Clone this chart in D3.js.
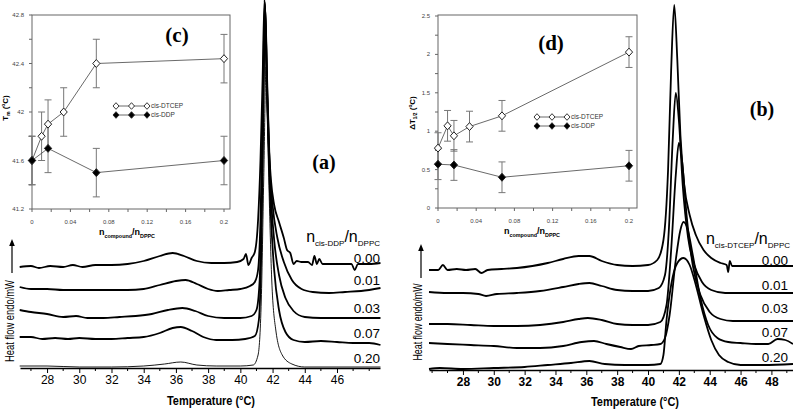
<!DOCTYPE html>
<html><head><meta charset="utf-8">
<script src="https://cdn.jsdelivr.net/npm/d3@7/dist/d3.min.js"></script>
<style>body{margin:0;background:#fff}svg{display:block}</style>
</head><body>
<svg id="c" width="793" height="409"></svg>
<script>
// ---------------- DATA ----------------
const ratioLabels = ["0.00", "0.01", "0.03", "0.07", "0.20"];
const tempTicksA = [28, 30, 32, 34, 36, 38, 40, 42, 44, 46];
const tempTicksB = [28, 30, 32, 34, 36, 38, 40, 42, 44, 46, 48];

// Panel (a): cis-DDP, heat flow (arbitrary mW, offset curves) vs temperature
const dscA_000 = [[26.3,1.01],[27.0,1.02],[27.5,1.00],[28.2,1.02],[29.0,1.01],[29.6,1.03],[30.2,1.01],[31.0,1.03],[32.0,1.03],[33.0,1.04],[34.0,1.07],[35.0,1.12],[35.8,1.15],[36.5,1.12],[37.3,1.07],[38.2,1.05],[39.0,1.05],[39.8,1.06],[40.2,1.09],[40.35,1.14],[40.5,1.03],[40.7,1.10],[40.9,1.16],[41.1,1.48],[41.25,2.08],[41.38,2.88],[41.5,3.68],[41.62,2.98],[41.75,2.28],[41.9,1.88],[42.1,1.63],[42.4,1.46],[42.7,1.30],[42.9,1.18],[43.1,1.15],[43.3,1.04],[43.5,1.07],[43.8,1.06],[44.2,1.06],[44.45,1.03],[44.6,1.12],[44.75,1.04],[44.9,1.09],[45.1,1.04],[46.0,1.04],[46.9,1.04],[47.1,0.98],[47.3,1.04],[48.0,1.04],[48.7,1.05]];
const dscA_001 = [[26.3,0.81],[27.0,0.79],[28.0,0.79],[29.0,0.78],[30.0,0.78],[31.0,0.78],[32.0,0.78],[33.0,0.78],[34.0,0.79],[35.0,0.83],[36.0,0.87],[36.6,0.88],[37.3,0.84],[38.0,0.79],[38.6,0.77],[39.3,0.78],[40.0,0.79],[40.6,0.82],[40.9,0.86],[41.1,0.98],[41.25,1.48],[41.4,2.68],[41.52,3.66],[41.65,2.88],[41.8,2.08],[42.0,1.63],[42.3,1.30],[42.7,1.06],[43.2,0.88],[43.8,0.79],[44.5,0.76],[45.5,0.75],[46.5,0.76],[47.5,0.77],[48.7,0.80]];
const dscA_003 = [[26.3,0.58],[27.0,0.56],[28.0,0.54],[29.0,0.51],[29.8,0.52],[30.5,0.50],[31.5,0.50],[32.5,0.51],[33.5,0.52],[34.5,0.54],[35.5,0.58],[36.4,0.60],[37.2,0.57],[38.0,0.52],[39.0,0.50],[40.0,0.50],[40.7,0.52],[41.0,0.58],[41.2,0.88],[41.35,1.88],[41.53,3.64],[41.68,2.78],[41.85,1.88],[42.1,1.28],[42.4,0.93],[42.8,0.70],[43.3,0.57],[44.0,0.51],[45.0,0.50],[46.0,0.50],[47.0,0.50],[48.7,0.50]];
const dscA_007 = [[26.3,0.31],[27.0,0.31],[27.7,0.29],[28.5,0.30],[29.3,0.29],[30.0,0.30],[31.0,0.29],[32.0,0.29],[33.0,0.30],[34.0,0.31],[35.0,0.35],[35.8,0.40],[36.3,0.41],[37.0,0.37],[37.7,0.31],[38.5,0.28],[39.5,0.28],[40.3,0.29],[40.9,0.32],[41.15,0.48],[41.3,1.18],[41.42,2.48],[41.54,3.62],[41.68,2.58],[41.85,1.68],[42.1,0.98],[42.4,0.58],[42.8,0.36],[43.3,0.28],[44.0,0.26],[45.0,0.27],[46.0,0.26],[47.0,0.25],[48.0,0.25],[48.7,0.23]];
const dscA_020 = [[26.3,0.02],[28.0,0.02],[30.0,0.01],[32.0,0.01],[34.0,0.02],[35.3,0.04],[36.3,0.06],[37.3,0.03],[38.5,0.02],[40.0,0.02],[40.8,0.03],[41.1,0.13],[41.3,0.68],[41.45,1.88],[41.6,3.01],[41.75,1.98],[41.95,0.88],[42.2,0.38],[42.6,0.13],[43.2,0.04],[44.0,0.01],[46.0,0.01],[48.7,0.01]];

// Panel (b): cis-DTCEP
const dscB_000 = [[25.8,1.00],[26.4,1.00],[26.7,1.05],[27.0,1.00],[27.6,1.01],[28.2,1.00],[28.8,1.01],[29.2,0.97],[29.6,1.00],[30.5,1.01],[31.5,1.02],[32.5,1.04],[33.5,1.07],[34.5,1.11],[35.5,1.14],[36.2,1.14],[37.0,1.09],[38.0,1.05],[39.0,1.04],[40.0,1.05],[40.6,1.10],[41.0,1.30],[41.3,2.00],[41.5,3.00],[41.7,3.65],[41.9,3.10],[42.1,2.35],[42.35,1.85],[42.7,1.55],[43.1,1.35],[43.6,1.20],[44.1,1.12],[44.7,1.07],[45.1,1.05],[45.2,0.98],[45.3,1.09],[45.45,1.04],[46.0,1.04],[47.0,1.04],[48.0,1.04],[49.4,1.04]];
const dscB_001 = [[25.8,0.78],[27.0,0.77],[28.0,0.77],[29.0,0.76],[29.5,0.74],[30.2,0.76],[31.5,0.77],[33.0,0.79],[34.5,0.83],[35.5,0.86],[36.2,0.87],[37.0,0.84],[38.0,0.80],[39.0,0.79],[40.0,0.79],[40.7,0.82],[41.1,0.95],[41.35,1.40],[41.6,2.30],[41.8,2.77],[42.0,2.50],[42.25,1.85],[42.6,1.32],[43.0,1.05],[43.5,0.88],[44.1,0.80],[45.0,0.77],[46.5,0.77],[48.0,0.77],[49.4,0.77]];
const dscB_003 = [[25.8,0.46],[27.0,0.46],[28.5,0.45],[30.0,0.44],[31.5,0.44],[33.0,0.45],[34.5,0.48],[35.5,0.51],[36.1,0.52],[37.0,0.50],[38.0,0.46],[39.0,0.45],[40.0,0.45],[40.8,0.48],[41.2,0.65],[41.5,1.20],[41.8,1.95],[42.0,2.27],[42.2,2.10],[42.5,1.55],[42.9,1.05],[43.4,0.75],[44.0,0.58],[44.7,0.51],[45.5,0.49],[47.0,0.49],[49.4,0.49]];
const dscB_007 = [[25.8,0.27],[27.0,0.26],[28.5,0.25],[30.0,0.24],[31.5,0.22],[33.0,0.22],[34.5,0.24],[35.7,0.28],[36.5,0.29],[37.3,0.26],[38.2,0.23],[38.9,0.21],[39.4,0.24],[40.2,0.25],[40.8,0.26],[41.1,0.32],[41.4,0.55],[41.8,1.10],[42.1,1.40],[42.3,1.48],[42.55,1.42],[42.9,1.15],[43.4,0.72],[43.9,0.45],[44.5,0.32],[45.2,0.28],[46.0,0.27],[47.0,0.26],[47.8,0.26],[48.4,0.31],[48.9,0.30],[49.4,0.26]];
const dscB_020 = [[25.8,0.01],[26.5,0.02],[28.0,0.01],[30.0,0.02],[32.0,0.03],[33.5,0.05],[35.0,0.07],[36.2,0.09],[37.2,0.06],[38.5,0.05],[40.0,0.05],[40.8,0.06],[41.0,0.15],[41.2,0.50],[41.5,0.85],[41.9,1.07],[42.3,1.12],[42.7,1.05],[43.1,0.85],[43.6,0.55],[44.1,0.30],[44.6,0.15],[45.2,0.08],[46.0,0.05],[47.5,0.05],[49.4,0.06]];

// Insets (c) Tm and (d) dT1/2 vs n_compound/n_DPPC
const ratioDTCEP = [0, 0.01, 0.0167, 0.033, 0.067, 0.2];
const ratioDDP = [0, 0.0167, 0.067, 0.2];
const tmDTCEP = [41.6, 41.8, 41.9, 42.0, 42.4, 42.44];
const tmDDP = [41.6, 41.7, 41.5, 41.6];
const tmErrDTCEP = [0.2, 0.2, 0.2, 0.2, 0.2, 0.2];
const tmErrDDP = [0.2, 0.2, 0.2, 0.2];
const dtDTCEP = [0.78, 1.07, 0.94, 1.06, 1.2, 2.03];
const dtDDP = [0.57, 0.56, 0.40, 0.55];
const dtErrDTCEP = [0.2, 0.2, 0.2, 0.2, 0.2, 0.2];
const dtErrDDP = [0.2, 0.2, 0.2, 0.2];
const insetXTicks = [0, 0.04, 0.08, 0.12, 0.16, 0.2];
const tmTicks = [41.2, 41.6, 42, 42.4, 42.8];
const dtTicks = [0, 0.5, 1, 1.5, 2, 2.5];
const seriesNames = ["cis-DTCEP", "cis-DDP"];

// ---------------- DRAWING ----------------
const svg = d3.select("#c");
const SANS = "'Liberation Sans', Arial, sans-serif";
const SERIF = "'Liberation Serif', 'Times New Roman', serif";

function richText(parent, x, y, parts, o) {
  const t = parent.append("text").attr("x", x).attr("y", y)
    .attr("text-anchor", o.anchor || "start")
    .style("font-family", o.family || SANS).style("font-size", o.size + "px")
    .style("font-weight", o.weight || "normal").attr("fill", o.fill || "#000");
  let shift = 0;
  parts.forEach(([s, kind]) => {
    const target = kind === "sub" ? o.size * 0.28 : kind === "sup" ? -o.size * 0.42 : 0;
    const sp = t.append("tspan").text(s).attr("dy", target - shift);
    if (kind !== "n") sp.style("font-size", (o.size * (o.subScale || 0.6)) + "px");
    shift = target;
  });
  if (o.rotate) t.attr("transform", `rotate(${o.rotate},${x},${y})`);
  return t;
}

function mainPanel(cfg) {
  const g = svg.append("g");
  const x = d3.scaleLinear().domain(cfg.xDomain).range(cfg.xRange);
  const y = d3.scaleLinear().domain(cfg.yDomain).range([cfg.axisY, 0]);
  const line = d3.line().curve(d3.curveMonotoneX).x(d => x(d[0])).y(d => y(d[1]));
  cfg.curves.forEach((c, i) => {
    g.append("path").attr("d", line(c)).attr("fill", "none").attr("stroke", "#000")
      .attr("stroke-width", cfg.widths[i]).attr("stroke-linejoin", "round");
  });
  const ax = g.append("g").attr("transform", `translate(0,${cfg.axisY})`)
    .call(d3.axisBottom(x).tickValues(cfg.ticks).tickSize(5).tickSizeOuter(0).tickPadding(2).tickFormat(d3.format("d")));
  ax.select(".domain").attr("stroke-width", 1.4);
  ax.selectAll(".tick line").attr("stroke-width", 1);
  ax.selectAll(".tick text").style("font-family", SANS).style("font-size", "12px")
    .style("font-weight", cfg.tickWeight).attr("fill", "#000");
  const minor = d3.range(Math.ceil(cfg.xDomain[0]), Math.floor(cfg.xDomain[1]) + 1).filter(v => cfg.ticks.indexOf(v) < 0);
  g.append("g").attr("transform", `translate(0,${cfg.axisY})`).selectAll("line").data(minor).join("line")
    .attr("x1", d => x(d)).attr("x2", d => x(d)).attr("y1", 0).attr("y2", 3).attr("stroke", "#000");
  g.append("text").attr("x", cfg.titleX).attr("y", cfg.titleY).attr("text-anchor", "middle")
    .style("font-family", SANS).style("font-size", "12.5px").style("font-weight", "bold")
    .attr("textLength", 88).attr("lengthAdjust", "spacingAndGlyphs").text("Temperature (\u00B0C)");
  g.append("text").attr("x", cfg.yLabX).attr("y", cfg.yLabY).attr("text-anchor", "middle")
    .attr("transform", `rotate(-90,${cfg.yLabX},${cfg.yLabY})`)
    .style("font-family", SANS).style("font-size", "12px").attr("textLength", cfg.yLabLen)
    .attr("lengthAdjust", "spacingAndGlyphs").text("Heat flow endo/mW");
  g.append("line").attr("x1", cfg.arrowX).attr("x2", cfg.arrowX).attr("y1", cfg.arrowY[1]).attr("y2", cfg.arrowY[0] + 4)
    .attr("stroke", "#000").attr("stroke-width", 1.2);
  g.append("path").attr("d", `M${cfg.arrowX},${cfg.arrowY[0]} l-2.8,7 l5.6,0 z`).attr("fill", "#000");
  cfg.labelY.forEach((ly, i) => {
    g.append("text").attr("x", cfg.labelX).attr("y", ly).attr("text-anchor", "end")
      .style("font-family", SANS).style("font-size", "13.5px").text(ratioLabels[i]);
  });
  richText(g, cfg.headX, cfg.headY, [["n", "n"], [cfg.compound, "sub"], ["/n", "n"], ["DPPC", "sub"]],
    { size: 16, anchor: "end", subScale: 0.5 });
  g.append("text").attr("x", cfg.tagX).attr("y", cfg.tagY).attr("text-anchor", "middle")
    .style("font-family", SERIF).style("font-size", "20px").style("font-weight", "bold").text(cfg.tag);
}

mainPanel({
  xDomain: [26.32, 48.67], xRange: [20, 380], yDomain: [0, 3.68], axisY: 368,
  curves: [dscA_000, dscA_001, dscA_003, dscA_007, dscA_020], widths: [1.8, 1.8, 1.8, 1.8, 0.9],
  ticks: tempTicksA, tickWeight: "normal", titleX: 211, titleY: 405,
  yLabX: 14, yLabY: 321, yLabLen: 82, arrowX: 12, arrowY: [239, 273],
  labelX: 380, labelY: [263, 285, 313, 338, 363], headX: 380, headY: 242, compound: "cis-DDP",
  tag: "(a)", tagX: 324, tagY: 169
});
mainPanel({
  xDomain: [25.8, 49.4], xRange: [429, 793], yDomain: [0, 3.70], axisY: 370,
  curves: [dscB_000, dscB_001, dscB_003, dscB_007, dscB_020], widths: [1.8, 1.8, 1.8, 1.8, 1.8],
  ticks: tempTicksB, tickWeight: "bold", titleX: 635, titleY: 406,
  yLabX: 422, yLabY: 322, yLabLen: 77, arrowX: 421, arrowY: [244, 278],
  labelX: 788, labelY: [265, 290, 313, 337, 362], headX: 790, headY: 244, compound: "cis-DTCEP",
  tag: "(b)", tagX: 762, tagY: 116
});

// ---------------- INSETS ----------------
function diamond(r) { return `M0,${-r * 1.1} L${r},0 L0,${r * 1.1} L${-r},0 Z`; }

function inset(cfg) {
  const g = svg.append("g");
  const x = d3.scaleLinear().domain([0, 0.2]).range(cfg.xr);
  const y = d3.scaleLinear().domain(cfg.yDomain).range(cfg.yr);
  g.append("rect").attr("x", cfg.frame[0]).attr("y", cfg.frame[1]).attr("width", cfg.frame[2] - cfg.frame[0])
    .attr("height", cfg.frame[3] - cfg.frame[1]).attr("fill", "none").attr("stroke", "#666").attr("stroke-width", 1);
  g.selectAll(".ym").data(cfg.yMinor).join("line").attr("x1", cfg.frame[0] - 3).attr("x2", cfg.frame[0])
    .attr("y1", d => y(d)).attr("y2", d => y(d)).attr("stroke", "#666");
  g.selectAll(".yl").data(cfg.yTicks).join("text").attr("x", cfg.frame[0] - 8).attr("y", d => y(d) + 2)
    .attr("text-anchor", "end").style("font-family", SANS).style("font-size", "6px").attr("fill", "#444").text(d => d);
  const xMinor = d3.range(0, 11).map(i => i * 0.02);
  g.selectAll(".xm").data(xMinor).join("line").attr("x1", d => x(d)).attr("x2", d => x(d))
    .attr("y1", cfg.frame[3]).attr("y2", cfg.frame[3] + 3).attr("stroke", "#666");
  g.selectAll(".xl").data(insetXTicks).join("text").attr("x", d => x(d)).attr("y", cfg.frame[3] + 15)
    .attr("text-anchor", "middle").style("font-family", SANS).style("font-size", "6px").attr("fill", "#444").text(d => d);
  richText(g, cfg.xLabX, cfg.frame[3] + 26, [["n", "n"], ["compound", "sub"], ["/n", "n"], ["DPPC", "sub"]],
    { size: 9, weight: "bold", anchor: "middle", subScale: 0.6 });
  richText(g, cfg.yLabX, cfg.yLabY, cfg.yLabParts, { size: 8, weight: "bold", anchor: "middle", rotate: -90, subScale: 0.6 });
  g.append("text").attr("x", cfg.tagX).attr("y", cfg.tagY).attr("text-anchor", "middle")
    .style("font-family", SERIF).style("font-size", "21px").style("font-weight", "bold").text(cfg.tag);

  const series = [
    { xs: ratioDTCEP, ys: cfg.s1, es: cfg.e1, fill: "#fff" },
    { xs: ratioDDP, ys: cfg.s2, es: cfg.e2, fill: "#000" }
  ];
  const ln = d3.line().x(d => x(d[0])).y(d => y(d[1]));
  series.forEach(s => {
    s.xs.forEach((v, i) => {
      const cx = x(v), y1 = y(s.ys[i] - s.es[i]), y2 = y(s.ys[i] + s.es[i]);
      g.append("line").attr("x1", cx).attr("x2", cx).attr("y1", y1).attr("y2", y2).attr("stroke", "#777").attr("stroke-width", 1);
      [y1, y2].forEach(yy => g.append("line").attr("x1", cx - 3.5).attr("x2", cx + 3.5).attr("y1", yy).attr("y2", yy)
        .attr("stroke", "#777").attr("stroke-width", 1));
    });
  });
  series.forEach(s => {
    const pts = s.xs.map((v, i) => [v, s.ys[i]]);
    g.append("path").attr("d", ln(pts)).attr("fill", "none").attr("stroke", "#444").attr("stroke-width", 0.8);
  });
  series.forEach(s => {
    s.xs.forEach((v, i) => {
      g.append("path").attr("d", diamond(3.6)).attr("transform", `translate(${x(v)},${y(s.ys[i])})`)
        .attr("fill", s.fill).attr("stroke", "#222").attr("stroke-width", 1);
    });
  });
  series.forEach((s, k) => {
    const ly = cfg.legY[k];
    g.append("line").attr("x1", cfg.legX[0]).attr("x2", cfg.legX[2]).attr("y1", ly).attr("y2", ly)
      .attr("stroke", "#444").attr("stroke-width", 0.8);
    cfg.legX.forEach(lx => g.append("path").attr("d", diamond(3)).attr("transform", `translate(${lx},${ly})`)
      .attr("fill", s.fill).attr("stroke", "#222").attr("stroke-width", 0.9));
    g.append("text").attr("x", cfg.legX[2] + 4).attr("y", ly + 2.3).style("font-family", SANS)
      .style("font-size", "6.5px").attr("fill", "#333").text(seriesNames[k]);
  });
}

inset({
  xr: [32, 224], yDomain: [41.2, 42.8], yr: [209, 15], frame: [32, 15, 230, 209],
  yTicks: tmTicks, yMinor: d3.range(0, 9).map(i => 41.2 + i * 0.2),
  s1: tmDTCEP, e1: tmErrDTCEP, s2: tmDDP, e2: tmErrDDP,
  xLabX: 127, yLabX: 8, yLabY: 108,
  yLabParts: [["T", "n"], ["m", "sub"], [" (", "n"], ["o", "sup"], ["C)", "n"]],
  tag: "(c)", tagX: 177, tagY: 42, legX: [116, 131.5, 147], legY: [106, 115]
});
inset({
  xr: [438, 629], yDomain: [0, 2.5], yr: [208, 16], frame: [438, 15, 637, 208],
  yTicks: dtTicks, yMinor: d3.range(0, 11).map(i => i * 0.25),
  s1: dtDTCEP, e1: dtErrDTCEP, s2: dtDDP, e2: dtErrDDP,
  xLabX: 532, yLabX: 415, yLabY: 113,
  yLabParts: [["\u0394T", "n"], ["1/2", "sub"], [" (", "n"], ["o", "sup"], ["C)", "n"]],
  tag: "(d)", tagX: 551, tagY: 50, legX: [537, 552, 567], legY: [117, 126]
});
</script>
</body></html>
